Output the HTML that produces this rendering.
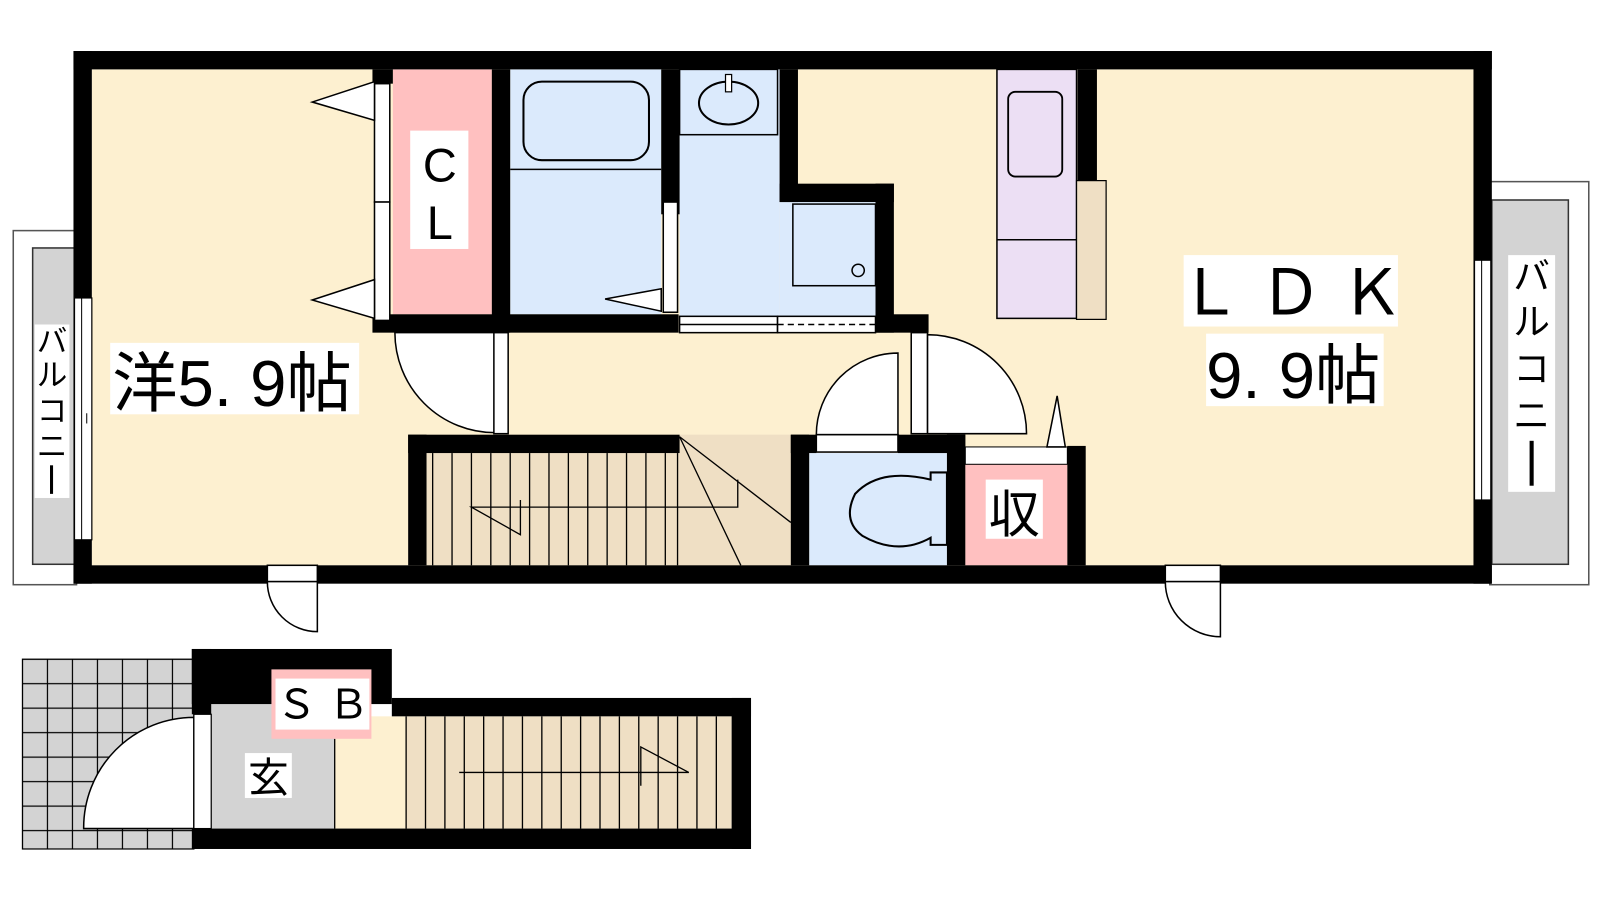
<!DOCTYPE html>
<html><head><meta charset="utf-8"><style>
html,body{margin:0;padding:0;background:#fff;width:1600px;height:900px;overflow:hidden}
svg{display:block}
text{font-family:"Liberation Sans","Noto Sans CJK JP",sans-serif;fill:#000}
</style></head><body>
<svg width="1600" height="900" viewBox="0 0 1568 882" preserveAspectRatio="none" xmlns="http://www.w3.org/2000/svg">
<!-- left balcony -->
<rect x="13" y="226" width="62" height="347" fill="#fff" stroke="#555" stroke-width="1.5"/>
<rect x="32" y="243" width="42" height="310" fill="#d3d3d3" stroke="#333" stroke-width="1.5"/>
<rect x="34" y="318" width="34" height="170" fill="#fff"/>
<text x="51" y="345" font-size="30" text-anchor="middle">バ</text>
<text x="51" y="378" font-size="30" text-anchor="middle">ル</text>
<text x="51" y="413" font-size="30" text-anchor="middle">コ</text>
<text x="51" y="448" font-size="30" text-anchor="middle">ニ</text>
<rect x="49" y="456" width="3" height="28" fill="#000"/>
<!-- right balcony -->
<rect x="1460" y="178" width="97" height="395" fill="#fff" stroke="#555" stroke-width="1.5"/>
<rect x="1462" y="196" width="75" height="357" fill="#d3d3d3" stroke="#333" stroke-width="1.5"/>
<rect x="1478" y="250" width="46" height="232" fill="#fff"/>
<text x="1501" y="283" font-size="36" text-anchor="middle">バ</text>
<text x="1501" y="328" font-size="36" text-anchor="middle">ル</text>
<text x="1501" y="374" font-size="36" text-anchor="middle">コ</text>
<text x="1501" y="420" font-size="36" text-anchor="middle">ニ</text>
<rect x="1499" y="432" width="4" height="44" fill="#000"/>

<!-- floors -->
<rect x="90" y="68" width="1354" height="486" fill="#fdf0d0"/>
<rect x="385" y="68" width="97" height="240" fill="#ffc0c0"/>
<rect x="500" y="68" width="148" height="240" fill="#dbeafc"/>
<rect x="666" y="68" width="98" height="242" fill="#dbeafc"/>
<rect x="764" y="198" width="94" height="112" fill="#dbeafc"/>
<rect x="418" y="444" width="357" height="110" fill="#efdfc4"/>
<rect x="666" y="426" width="109" height="128" fill="#efdfc4"/>
<rect x="793" y="444" width="135" height="110" fill="#dbeafc"/>
<rect x="946" y="455" width="100" height="99" fill="#ffc0c0"/>
<rect x="946" y="438" width="100" height="17" fill="#fff" stroke="#000" stroke-width="1"/>
<!-- fixtures -->
<rect x="513" y="80" width="123" height="77" rx="18" fill="none" stroke="#000" stroke-width="2"/>
<line x1="500" y1="166" x2="648" y2="166" stroke="#000" stroke-width="1.5"/>
<rect x="666" y="68" width="96" height="64" fill="#dbeafc" stroke="#000" stroke-width="1.5"/>
<ellipse cx="714" cy="101" rx="29" ry="21" fill="none" stroke="#000" stroke-width="2"/>
<rect x="711" y="73" width="6" height="17" fill="#fff" stroke="#000" stroke-width="1.2"/>
<rect x="777" y="200" width="81" height="80" fill="none" stroke="#000" stroke-width="1.5"/>
<circle cx="841" cy="265" r="6" fill="none" stroke="#000" stroke-width="1.5"/>
<rect x="977" y="68" width="78" height="244" fill="#ecdff4" stroke="#000" stroke-width="1.5"/>
<rect x="988" y="90" width="53" height="83" rx="7" fill="none" stroke="#000" stroke-width="1.8"/>
<line x1="977" y1="235" x2="1055" y2="235" stroke="#000" stroke-width="1.5"/>
<rect x="1055" y="177" width="29" height="136" fill="#efdfc4" stroke="#000" stroke-width="1.2"/>
<!-- toilet -->
<path d="M912,470 L912,463 L928,463 L928,534 L912,534 L912,527 Q880,545 845,525 Q825,510 838,484 Q862,458 912,470 Z" fill="none" stroke="#000" stroke-width="2"/>

<!-- stairs upper -->
<g stroke="#000" stroke-width="1.3">
<line x1="424" y1="444" x2="424" y2="554"/><line x1="443" y1="444" x2="443" y2="554"/><line x1="462" y1="444" x2="462" y2="554"/><line x1="481" y1="444" x2="481" y2="554"/><line x1="500" y1="444" x2="500" y2="554"/><line x1="519" y1="444" x2="519" y2="554"/><line x1="538" y1="444" x2="538" y2="554"/><line x1="557" y1="444" x2="557" y2="554"/><line x1="576" y1="444" x2="576" y2="554"/><line x1="595" y1="444" x2="595" y2="554"/><line x1="614" y1="444" x2="614" y2="554"/><line x1="633" y1="444" x2="633" y2="554"/><line x1="652" y1="444" x2="652" y2="554"/><line x1="664" y1="444" x2="664" y2="554"/>
<line x1="666" y1="428" x2="775" y2="512"/><line x1="666" y1="428" x2="726" y2="554"/>
<polyline points="723,470 723,497 462,497 510,524 510,490" fill="none"/>
</g>

<!-- walls -->
<g fill="#000">
<rect x="72" y="50" width="1390" height="18"/>
<rect x="72" y="554" width="1390" height="18"/>
<rect x="72" y="50" width="18" height="522"/>
<rect x="1444" y="50" width="18" height="522"/>
<rect x="365" y="68" width="20" height="14"/>
<rect x="365" y="308" width="300" height="18"/>
<rect x="482" y="68" width="18" height="258"/>
<rect x="648" y="68" width="18" height="142"/>
<rect x="764" y="68" width="18" height="130"/>
<rect x="764" y="180" width="112" height="18"/>
<rect x="858" y="180" width="18" height="146"/>
<rect x="858" y="308" width="52" height="18"/>
<rect x="1056" y="68" width="19" height="109"/>
<rect x="400" y="426" width="266" height="18"/>
<rect x="400" y="426" width="18" height="128"/>
<rect x="775" y="426" width="18" height="128"/>
<rect x="775" y="426" width="25" height="18"/>
<rect x="880" y="426" width="66" height="18"/>
<rect x="928" y="426" width="18" height="128"/>
<rect x="1046" y="437" width="18" height="117"/>
</g>
<!-- windows -->
<rect x="73" y="292" width="17" height="237" fill="#fff" stroke="#000" stroke-width="1.2"/>
<line x1="80" y1="292" x2="80" y2="529" stroke="#000" stroke-width="1"/>
<line x1="85" y1="405" x2="85" y2="415" stroke="#000" stroke-width="1"/>
<rect x="1445" y="255" width="16" height="235" fill="#fff" stroke="#000" stroke-width="1.2"/>
<line x1="1452" y1="255" x2="1452" y2="490" stroke="#000" stroke-width="1"/>
<!-- doors -->
<g fill="#fff" stroke="#000" stroke-width="1.5">
<rect x="367" y="82" width="15" height="116"/><rect x="367" y="198" width="15" height="116"/>
<polygon points="306,100 367,80 367,118"/><polygon points="306,294 367,274 367,312"/>
<rect x="650" y="198" width="14" height="108"/>
<polygon points="593,293 648,283 648,305"/>
<rect x="666" y="310" width="96" height="16"/><line x1="666" y1="318" x2="762" y2="318"/>
<rect x="762" y="310" width="96" height="16"/>
<path d="M485,326 L387,326 A98,98 0 0 0 485,424 Z" stroke-width="1.5"/>
<rect x="484" y="326" width="14" height="99"/>
<path d="M880,346 A80,80 0 0 0 800,426 L880,426 Z"/>
<rect x="800" y="426" width="80" height="17"/>
<rect x="893" y="326" width="16" height="99"/>
<path d="M909,328 A97,97 0 0 1 1006,425 L909,425 Z"/>
<polygon points="1026,438 1036,388 1044,438"/>
<rect x="262" y="554" width="49" height="16"/>
<path d="M262,570 A49,49 0 0 0 311,619 L311,570 Z"/>
<rect x="1142" y="554" width="54" height="16"/>
<path d="M1142,570 A54,54 0 0 0 1196,624 L1196,570 Z"/>
</g>
<line x1="762" y1="318" x2="858" y2="318" stroke="#000" stroke-width="1.5" stroke-dasharray="6,4"/>

<!-- labels -->
<rect x="402" y="128" width="57" height="116" fill="#fff"/>
<text x="431" y="178" font-size="46" text-anchor="middle">C</text>
<text x="431" y="234" font-size="46" text-anchor="middle">L</text>
<rect x="108" y="336" width="244" height="70" fill="#fff"/>
<text x="110" y="398" font-size="64">洋5. 9帖</text>
<rect x="1160" y="250" width="210" height="70" fill="#fff"/>
<text x="1265" y="308" font-size="62" text-anchor="middle">Ｌ Ｄ Ｋ</text>
<rect x="1182" y="327" width="174" height="71" fill="#fff"/>
<text x="1182" y="390" font-size="64">9. 9帖</text>
<rect x="966" y="470" width="56" height="58" fill="#fff"/>
<text x="994" y="522" font-size="50" text-anchor="middle">収</text>

<!-- bottom section -->
<defs><pattern id="tile" width="24.5" height="24" patternUnits="userSpaceOnUse" x="22" y="646">
<rect width="24.5" height="24" fill="#d3d3d3" stroke="#000" stroke-width="1.2"/></pattern></defs>
<rect x="22" y="646" width="168" height="186" fill="url(#tile)" stroke="#000" stroke-width="1.2"/>
<rect x="207" y="690" width="121" height="122" fill="#d3d3d3"/>
<rect x="328" y="702" width="70" height="110" fill="#fdf0d0"/>
<rect x="398" y="702" width="319" height="110" fill="#efdfc4"/>
<g stroke="#000" stroke-width="1.3">
<line x1="398" y1="702" x2="398" y2="812"/><line x1="417" y1="702" x2="417" y2="812"/><line x1="436" y1="702" x2="436" y2="812"/><line x1="455" y1="702" x2="455" y2="812"/><line x1="474" y1="702" x2="474" y2="812"/><line x1="493" y1="702" x2="493" y2="812"/><line x1="512" y1="702" x2="512" y2="812"/><line x1="531" y1="702" x2="531" y2="812"/><line x1="550" y1="702" x2="550" y2="812"/><line x1="569" y1="702" x2="569" y2="812"/><line x1="588" y1="702" x2="588" y2="812"/><line x1="607" y1="702" x2="607" y2="812"/><line x1="626" y1="702" x2="626" y2="812"/><line x1="645" y1="702" x2="645" y2="812"/><line x1="664" y1="702" x2="664" y2="812"/><line x1="683" y1="702" x2="683" y2="812"/><line x1="702" y1="702" x2="702" y2="812"/>
<polyline points="450,757 675,757 628,732 628,770" fill="none"/>
<line x1="328" y1="724" x2="328" y2="812"/>
</g>
<g fill="#000">
<rect x="188" y="636" width="196" height="54"/>
<rect x="188" y="636" width="19" height="64"/>
<rect x="384" y="684" width="352" height="18"/>
<rect x="717" y="684" width="19" height="148"/>
<rect x="188" y="812" width="548" height="20"/>
</g>
<path d="M190,703 A108,108 0 0 0 82,812 L190,812 Z" fill="#fff" stroke="#000" stroke-width="1.5"/>
<rect x="190" y="700" width="17" height="112" fill="#fff" stroke="#000" stroke-width="1.2"/>
<rect x="266" y="656" width="98" height="68" fill="#ffc0c0"/>
<rect x="270" y="665" width="92" height="50" fill="#fff"/>
<text x="316" y="704" font-size="40" text-anchor="middle">Ｓ Ｂ</text>
<rect x="240" y="738" width="46" height="44" fill="#fff"/>
<text x="263" y="776" font-size="40" text-anchor="middle">玄</text>
</svg>
</body></html>
